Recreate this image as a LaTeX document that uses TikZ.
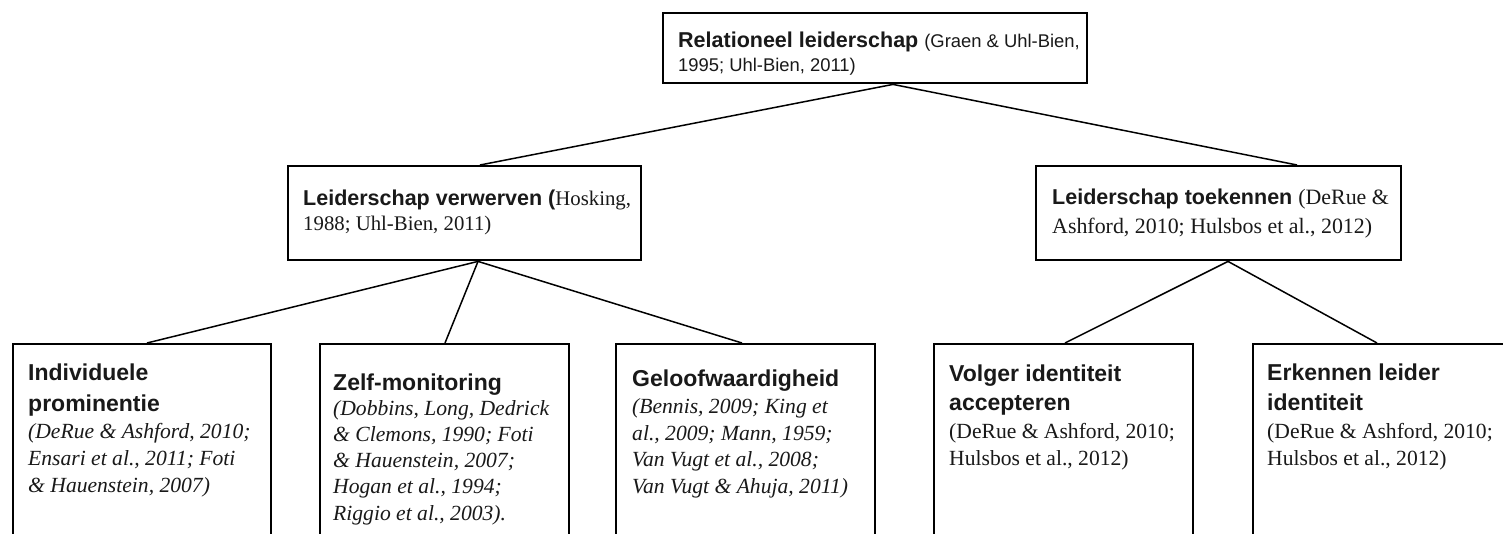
\documentclass[tikz,border=0pt]{standalone}
\usepackage{fontspec}
\setmainfont{Liberation Serif}
\newfontfamily\sansf{Liberation Sans}
\usetikzlibrary{calc}
\newcommand{\Lines}[2]{\vtop{\baselineskip=#1\lineskiplimit=-100pt\lineskip=0pt\relax #2}}
\newcommand{\Ln}[1]{\hbox{#1}}
\newcommand{\fs}[1]{\fontsize{#1}{#1}\selectfont}
\begin{document}
\begin{tikzpicture}[x=1pt,y=-1pt,
  box/.style={draw=black,line width=2.4pt,inner sep=0pt,anchor=north west},
  link/.style={draw=black,line width=1.5pt},
  txt/.style={anchor=base west,inner sep=0pt,text=black!90},
  hd/.style={txt,font=\sansf\bfseries\fs{23}},
  ci/.style={txt,font=\itshape\fs{21.6}},
  cu/.style={txt,font=\fs{21.6}}]
\useasboundingbox (0,0) rectangle (1503,533);
\clip (0,0) rectangle (1503,533);
\fill[white] (0,0) rectangle (1503,533);
% boxes
\node[box,minimum width=424pt,minimum height=70pt] (top) at (662,12) {};
\node[box,minimum width=353pt,minimum height=94pt] (mv) at (287,165) {};
\node[box,minimum width=365pt,minimum height=94pt] (mt) at (1035,165) {};
\node[box,minimum width=258pt,minimum height=250pt] (b1) at (12,343) {};
\node[box,minimum width=249pt,minimum height=250pt] (b2) at (319,343) {};
\node[box,minimum width=259pt,minimum height=250pt] (b3) at (615,343) {};
\node[box,minimum width=259pt,minimum height=250pt] (b4) at (933,343) {};
\node[box,minimum width=300pt,minimum height=250pt] (b5) at (1252,343) {};
% connector points
\coordinate (topA) at ($(top.south west)+(231,0)$);
\coordinate (mvIn) at ($(mv.north west)+(193,0)$);
\coordinate (mtIn) at ($(mt.north west)+(262,0)$);
\coordinate (mvA) at ($(mv.south west)+(191,0)$);
\coordinate (mtA) at ($(mt.south west)+(193,0)$);
\coordinate (b1In) at ($(b1.north west)+(135,0)$);
\coordinate (b2In) at ($(b2.north west)+(126,0)$);
\coordinate (b3In) at ($(b3.north west)+(127,0)$);
\coordinate (b4In) at ($(b4.north west)+(132,0)$);
\coordinate (b5In) at ($(b5.north west)+(125,0)$);
\draw[link] (topA) -- (mvIn);
\draw[link] (topA) -- (mtIn);
\draw[link] (mvA) -- (b1In);
\draw[link] (mvA) -- (b2In);
\draw[link] (mvA) -- (b3In);
\draw[link] (mtA) -- (b4In);
\draw[link] (mtA) -- (b5In);
% top text
\node[txt,font=\sansf\bfseries\fs{21.5}] (topt) at (678,47.7) {Relationeel leiderschap {\mdseries\fs{18.4}(Graen \& Uhl-Bien,}};
\node[txt,font=\sansf\fs{18.4}] (topt2) at (678,71.7) {1995; Uhl-Bien, 2011)};
% middle texts
\node[txt,font=\sansf\bfseries\fs{21.5}] (mvt) at (303,205) {Leiderschap verwerven ({\rmfamily\mdseries\fs{20.8}Hosking,}};
\node[txt,font=\fs{20.8}] (mvt2) at (303,230) {1988; Uhl-Bien, 2011)};
\node[txt,font=\sansf\bfseries\fs{21.5}] (mtt) at (1052,204) {Leiderschap toekennen {\rmfamily\mdseries\fs{21.9}(DeRue \&}};
\node[txt,font=\fs{21.9}] (mtt2) at (1052,233) {Ashford, 2010; Hulsbos et al., 2012)};
% bottom texts
\node[hd] (b1t) at (28,380.7) {\Lines{31pt}{\Ln{Individuele}\Ln{prominentie}}};
\node[ci] (b1c) at (28,438) {\Lines{27pt}{\Ln{(DeRue \& Ashford, 2010;}\Ln{Ensari et al., 2011; Foti}\Ln{\& Hauenstein, 2007)}}};
\node[hd] (b2t) at (333,390) {Zelf-monitoring};
\node[ci] (b2c) at (333,415) {\Lines{26.3pt}{\Ln{(Dobbins, Long, Dedrick}\Ln{\& Clemons, 1990; Foti}\Ln{\& Hauenstein, 2007;}\Ln{Hogan et al., 1994;}\Ln{Riggio et al., 2003).}}};
\node[hd] (b3t) at (632,386.7) {Geloofwaardigheid};
\node[ci] (b3c) at (632,413.3) {\Lines{26.7pt}{\Ln{(Bennis, 2009; King et}\Ln{al., 2009; Mann, 1959;}\Ln{Van Vugt et al., 2008;}\Ln{Van Vugt \& Ahuja, 2011)}}};
\node[hd] (b4t) at (949,381.7) {\Lines{28.3pt}{\Ln{Volger identiteit}\Ln{accepteren}}};
\node[cu] (b4c) at (949,438) {\Lines{27pt}{\Ln{(DeRue \& Ashford, 2010;}\Ln{Hulsbos et al., 2012)}}};
\node[hd] (b5t) at (1267,380) {\Lines{30pt}{\Ln{Erkennen leider}\Ln{identiteit}}};
\node[cu] (b5c) at (1267,438) {\Lines{27pt}{\Ln{(DeRue \& Ashford, 2010;}\Ln{Hulsbos et al., 2012)}}};
\end{tikzpicture}
\end{document}
